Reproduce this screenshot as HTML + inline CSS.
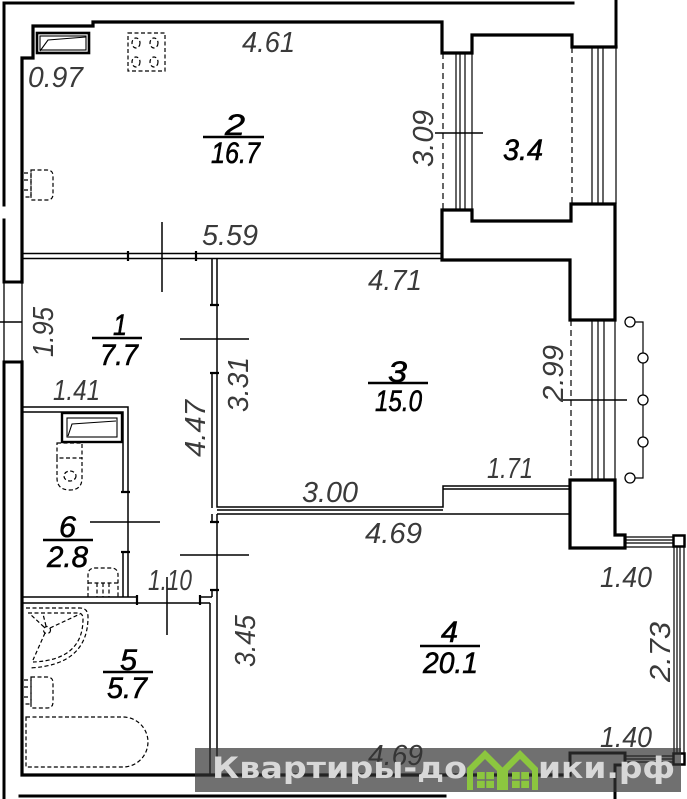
<!DOCTYPE html>
<html><head><meta charset="utf-8">
<style>
html,body{margin:0;padding:0;background:#fff;}
svg{display:block;}
.d{font-family:"Liberation Sans",sans-serif;font-style:italic;font-size:29px;fill:#3a3a3a;}
.r{font-family:"Liberation Sans",sans-serif;font-style:italic;font-size:30px;fill:#000;stroke:#000;stroke-width:0.6;}
</style></head>
<body>
<svg width="687" height="799" viewBox="0 0 687 799" xmlns="http://www.w3.org/2000/svg">
<rect width="687" height="799" fill="#fff"/>
<g fill="none" stroke="#000" stroke-linecap="square">
<!-- outer lines -->
<path d="M4,3 H573" stroke-width="3"/>
<path d="M4,3 V205 M4,220 V282 H22 M4,362 H22 M4,362 V799" stroke-width="3"/>
<path d="M4,282 V362 M22,282 V362" stroke-width="1.3"/>
<path d="M616,0 V47" stroke-width="3"/>
<!-- inner kitchen wall -->
<path d="M22,282 V58 H33 V26 H93 V22 H442 V53 H472 V35 H572 V47 H616" stroke-width="3.2"/>
<path d="M22,362 V775 H570" stroke-width="3.2"/>
<path d="M20,796 H445" stroke-width="3"/>
<!-- balcony / wall block -->
<path d="M571,204 V221 H472 V210 H442 V260 H570 V320 H615 V204 H571" stroke-width="3.2"/>
<path d="M570,480 H615 V535 H625 V548 H570 Z" stroke-width="3.2"/>
<path d="M570,775 V753 H625 V765 H615 V799" stroke-width="3"/>
</g>
<!-- windows -->
<g fill="none" stroke="#000" stroke-width="1.2">
<path d="M443,53 V210" stroke-dasharray="6,4"/>
<path d="M456,53 V210 M460,53 V210 M465,53 V210 M472,53 V210"/>
<path d="M572,47 V204" stroke-dasharray="6,4"/>
<path d="M592,47 V204 M598,47 V204 M603,47 V204 M616,47 V204"/>
<path d="M571,320 V480" stroke-dasharray="6,4"/>
<path d="M592,320 V480 M598,320 V480 M604,320 V480 M615,320 V480"/>
<path d="M625,537 H674 M625,540 H674 M625,543 H674 M625,547 H674"/>
<path d="M674,547 V753 M677,547 V753 M680,547 V753 M684,547 V753"/>
<path d="M625,756 H674 M625,759 H674 M625,762 H674"/>
<!-- radiator -->
<path d="M634,322 H643 V478 H634"/>
</g>
<g fill="#fff" stroke="#000" stroke-width="1.3">
<circle cx="630" cy="322" r="5"/><circle cx="643" cy="358" r="5"/><circle cx="643" cy="400" r="5"/><circle cx="643" cy="442" r="5"/><circle cx="630" cy="478" r="5"/>
</g>
<g fill="#fff" stroke="#000" stroke-width="2.5">
<rect x="673.5" y="535.5" width="11" height="11"/>
<rect x="673.5" y="753.5" width="11" height="11"/>
</g>
<!-- partitions -->
<g fill="none" stroke="#000" stroke-width="1.5">
<path d="M22,253.5 H442 M22,258.5 H442"/>
<path d="M128,251 V261 M196,251 V261" stroke-width="2.2"/>
<path d="M212,258.5 V305 M212,373 V508"/>
<path d="M217,258.5 V507 H443 V486 H570"/>
<path d="M443,489 H570 M217,510 H443"/>
<path d="M210,305 H219 M210,373 H219" stroke-width="2.2"/>
<path d="M217,514 H570"/>
<path d="M212,514 V522 M212,590 V597 M217,514 V775 M210,603 V775"/>
<path d="M210,522 H219 M210,590 H219" stroke-width="2.2"/>
<!-- bath 6 -->
<path d="M22,407 H128 V597 M22,412 H123 V492 M123,552 V597"/>
<path d="M121,492 H130 M121,552 H130" stroke-width="2.2"/>
<path d="M22,597 H137 M200,597 H212 M22,603 H210"/>
<path d="M137,595 V605 M200,595 V605" stroke-width="2.2"/>
<!-- crossing ticks -->
<path d="M162,222 V292 M180,339 H249 M180,555 H249 M90,522 H160 M167,577 V635 M435,133 H483 M562,400 H627 M0,322 H22"/>
</g>
<!-- fixtures -->
<g fill="none" stroke="#000">
<rect x="37" y="33" width="52" height="20" stroke-width="2.6"/>
<rect x="40" y="36" width="46" height="14" stroke-width="1.1"/>
<path d="M40,51 L48,40 L86,37" stroke-width="1.1"/>
<rect x="62" y="413" width="60" height="29" stroke-width="2.4"/>
<rect x="67" y="418" width="50" height="19" stroke-width="1.1"/>
<path d="M68,436 L72,424 L116,421" stroke-width="1.1"/>
</g>
<g fill="none" stroke="#000" stroke-width="1.2" stroke-dasharray="4,2.5">
<rect x="128" y="33" width="37" height="38"/>
<ellipse cx="136" cy="43" rx="4" ry="5"/><ellipse cx="154" cy="43" rx="4" ry="5"/>
<ellipse cx="136" cy="62" rx="4" ry="5"/><ellipse cx="154" cy="62" rx="4" ry="5"/>
<path d="M24,173 H31 V197 H24 M24,180 H31 M24,190 H31"/>
<path d="M31,170 H47 Q53,170 53,176 V194 Q53,200 47,200 H31 Z"/>
<path d="M57,443 H82 V458 H57 Z"/>
<path d="M57,458 V478 Q57,490 70,490 Q82,490 82,478 V458"/>
<ellipse cx="70" cy="476" rx="6" ry="5"/>
<path d="M88,597 V575 Q88,568 95,568 H111 Q118,568 118,575 V597 M97,583 V597 M103,583 V597 M109,583 V597 M88,583 H118"/>
<path d="M26,608 H80 Q88,608 88,617 Q88,665 30,668"/>
<path d="M28,613 H78 Q83,613 83,619 Q83,660 33,662"/>
<circle cx="47" cy="630" r="3.5"/>
<path d="M44,627 L30,614 M50,628 L80,614 M45,633 L33,660 M46,626 L43,614"/>
<path d="M24,680 H31 V704 H24 M24,687 H31 M24,697 H31"/>
<path d="M31,677 H47 Q53,677 53,683 V702 Q53,708 47,708 H31 Z"/>
<path d="M26,717 H123 A25,25 0 0 1 123,767 H26 Z"/>
</g>
<!-- fraction lines -->
<g stroke="#000" stroke-width="2.4">
<path d="M203,137 H264 M92,338 H142 M368,383 H428 M43,540 H93 M103,672 H153 M420,646 H480"/>
</g>
<!-- dimension labels -->
<g class="d">
<text x="242" y="52" textLength="53" lengthAdjust="spacingAndGlyphs">4.61</text>
<text x="28" y="87" textLength="55" lengthAdjust="spacingAndGlyphs">0.97</text>
<text x="202" y="245" textLength="56" lengthAdjust="spacingAndGlyphs">5.59</text>
<text x="368" y="290" textLength="54" lengthAdjust="spacingAndGlyphs">4.71</text>
<text x="53" y="400" textLength="47" lengthAdjust="spacingAndGlyphs">1.41</text>
<text x="487" y="478" textLength="46" lengthAdjust="spacingAndGlyphs">1.71</text>
<text x="302" y="502" textLength="56" lengthAdjust="spacingAndGlyphs">3.00</text>
<text x="365" y="543" textLength="57" lengthAdjust="spacingAndGlyphs">4.69</text>
<text x="148" y="590" textLength="44" lengthAdjust="spacingAndGlyphs">1.10</text>
<text x="600" y="587" textLength="52" lengthAdjust="spacingAndGlyphs">1.40</text>
<text x="600" y="747" textLength="52" lengthAdjust="spacingAndGlyphs">1.40</text>
<text x="368" y="765" textLength="55" lengthAdjust="spacingAndGlyphs">4.69</text>
<text transform="translate(433,138.5) rotate(-90)" text-anchor="middle" x="0" y="0" textLength="57" lengthAdjust="spacingAndGlyphs">3.09</text>
<text transform="translate(53,332) rotate(-90)" text-anchor="middle" textLength="50" lengthAdjust="spacingAndGlyphs">1.95</text>
<text transform="translate(248,384.5) rotate(-90)" text-anchor="middle" textLength="55" lengthAdjust="spacingAndGlyphs">3.31</text>
<text transform="translate(563,373.5) rotate(-90)" text-anchor="middle" textLength="57" lengthAdjust="spacingAndGlyphs">2.99</text>
<text transform="translate(205,428.5) rotate(-90)" text-anchor="middle" textLength="57" lengthAdjust="spacingAndGlyphs">4.47</text>
<text transform="translate(255,641) rotate(-90)" text-anchor="middle" textLength="52" lengthAdjust="spacingAndGlyphs">3.45</text>
<text transform="translate(670,652) rotate(-90)" text-anchor="middle" textLength="60" lengthAdjust="spacingAndGlyphs">2.73</text>
</g>
<!-- room labels -->
<g class="r">
<text x="225" y="135" textLength="20" lengthAdjust="spacingAndGlyphs">2</text>
<text x="211" y="163" textLength="49" lengthAdjust="spacingAndGlyphs">16.7</text>
<text x="503" y="160" textLength="40" lengthAdjust="spacingAndGlyphs">3.4</text>
<text x="113" y="335" textLength="14" lengthAdjust="spacingAndGlyphs">1</text>
<text x="100" y="365" textLength="38" lengthAdjust="spacingAndGlyphs">7.7</text>
<text x="388" y="382" textLength="19" lengthAdjust="spacingAndGlyphs">3</text>
<text x="375" y="411" textLength="47" lengthAdjust="spacingAndGlyphs">15.0</text>
<text x="59" y="537" textLength="17" lengthAdjust="spacingAndGlyphs">6</text>
<text x="47" y="567" textLength="41" lengthAdjust="spacingAndGlyphs">2.8</text>
<text x="120" y="670" textLength="17" lengthAdjust="spacingAndGlyphs">5</text>
<text x="107" y="698" textLength="40" lengthAdjust="spacingAndGlyphs">5.7</text>
<text x="441" y="642" textLength="17" lengthAdjust="spacingAndGlyphs">4</text>
<text x="423" y="673" textLength="55" lengthAdjust="spacingAndGlyphs">20.1</text>
</g>
<!-- watermark -->
<rect x="195" y="748" width="486" height="44" fill="#333" opacity="0.7"/>
<g font-family="'DejaVu Sans','Liberation Sans',sans-serif" font-weight="bold" font-size="29" fill="#d8d8d8">
<text x="212" y="778" textLength="255" lengthAdjust="spacingAndGlyphs">Квартиры-до</text>
<text x="538" y="778" textLength="137" lengthAdjust="spacingAndGlyphs">ики.рф</text>
</g>
<g fill="#8cc63f">
<polygon points="467,768 485,750 503,768 503,790 497,790 497,771 485,759 473,771 473,790 467,790"/>
<rect x="477" y="772" width="17" height="16"/>
<polygon points="502,768 520,750 538,768 538,790 532,790 532,771 520,759 508,771 508,790 502,790"/>
<rect x="512" y="772" width="17" height="16"/>
</g>
<g stroke="#6e6e6e" stroke-width="1.5">
<path d="M485.5,772 V788 M477,780 H494 M520.5,772 V788 M512,780 H529"/>
</g>
</svg>
</body></html>
